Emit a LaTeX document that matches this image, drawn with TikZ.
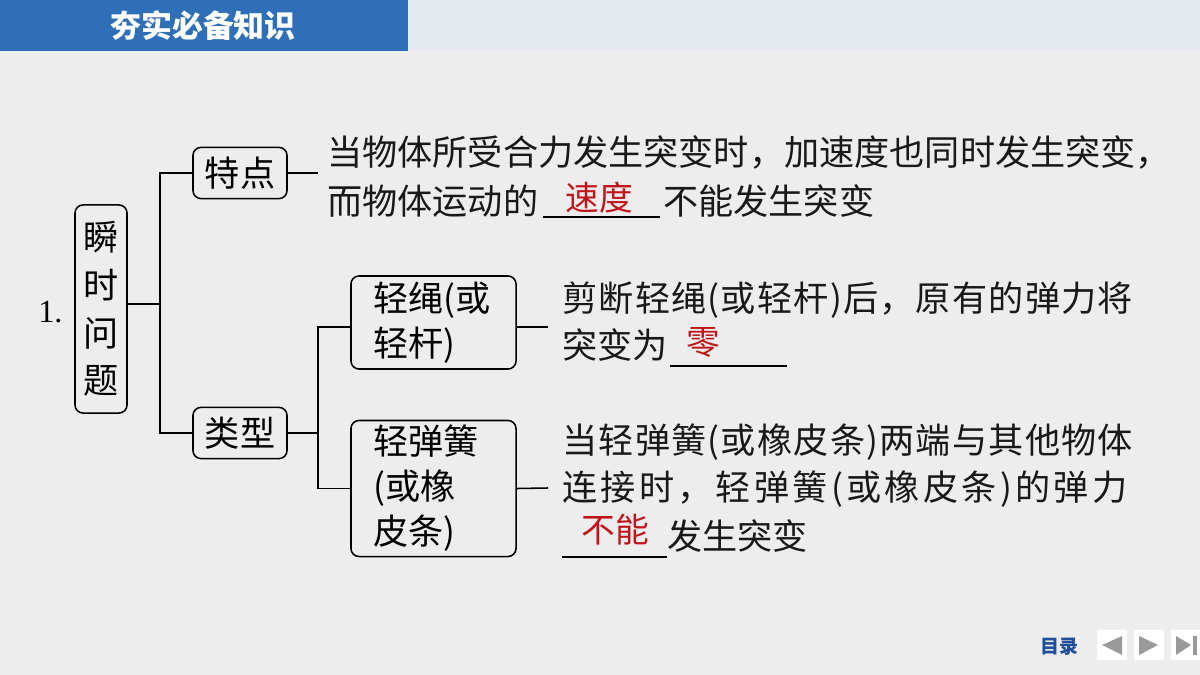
\documentclass[tikz,border=0pt]{standalone}
\usepackage{fontspec}
\setmainfont{Liberation Serif}
\newfontfamily\cjk{Noto Sans CJK SC}
\newfontfamily\cjkmid{Noto Sans CJK SC}[LetterSpace=3.5]
\newfontfamily\cjkwide{Noto Sans CJK SC}[LetterSpace=9.3]
\definecolor{hdrblue}{HTML}{2E6FB7}
\definecolor{bandc}{HTML}{E4E9F0}
\definecolor{bgc}{HTML}{EDEDED}
\definecolor{ansred}{HTML}{C0161B}
\definecolor{navblue}{HTML}{1F4E9A}
\definecolor{navgray}{HTML}{9A9A9A}
\tikzset{
  lnk/.style={line width=1.1pt, black},
  bx/.style={draw=black, line width=1.1pt, rounded corners=0.2cm, inner sep=0pt,
    font=\cjk\fontsize{25}{34}\selectfont},
  tx/.style={anchor=west, inner sep=0pt, text height=22pt, text depth=3pt,
    font=\cjk\fontsize{25}{30}\selectfont, text=black!90},
  txmid/.style={tx, font=\cjkmid\fontsize{25}{30}\selectfont},
  txwide/.style={tx, font=\cjkwide\fontsize{25}{30}\selectfont},
  ans/.style={anchor=center, inner sep=0pt, text height=21.1pt, text depth=2.9pt,
    font=\cjk\fontsize{24}{28}\selectfont, text=ansred},
  blankline/.style={line width=1.1pt, black},
  navbtn/.style={fill=white, draw=none, minimum width=0.75cm, minimum height=0.75cm, inner sep=0pt}
}
\begin{document}
\begin{tikzpicture}[x=0.025cm, y=-0.025cm]
\useasboundingbox (0,0) rectangle (1200,675);
% background
\fill[bgc] (0,0) rectangle (1200,675);
\fill[bandc] (408,0) rectangle (1200,50);
\fill[hdrblue] (0,0) rectangle (408,51);
\node[inner sep=0pt, font=\cjk\bfseries\fontsize{22}{26}\selectfont, text=white] (title) at (203,26) {夯实必备知识};

% number
\node[anchor=base west, inner sep=0pt, font=\fontsize{23}{26}\selectfont] (num) at (38,322) {1.};

% boxes
\node[bx, minimum width=1.3cm, minimum height=5.2cm, align=center,
      font=\cjk\fontsize{25}{34}\selectfont] (q) at (101,309) {瞬\\时\\问\\题};
\node[bx, minimum width=2.35cm, minimum height=1.28cm] (td) at (240,173) {特点};
\node[bx, minimum width=2.35cm, minimum height=1.28cm] (lx) at (240,433) {类型};
\node[bx, minimum width=4.125cm, minimum height=2.325cm, text width=3.0cm, align=left,
      font=\cjk\fontsize{25}{32}\selectfont] (sh) at (433.5,322.5) {轻绳(或\\轻杆)};
\node[bx, minimum width=4.125cm, minimum height=3.4cm, text width=3.0cm, align=left,
      font=\cjk\fontsize{25}{32}\selectfont] (sp) at (433.5,488.5) {轻弹簧\\(或橡\\皮条)};

% connectors
\coordinate (j1) at (160,304);
\coordinate (j2) at (318,433);
\coordinate (e0) at (318,173);
\coordinate (e1) at (548,327);
\coordinate (e2) at (548,488);
\draw[lnk] (q.east |- j1) -- (j1);
\draw[lnk] (td.west) -| (j1) |- (lx.west);
\draw[lnk] (td.east) -- (e0);
\draw[lnk] (lx.east) -- (j2);
\draw[lnk] (sh.west |- e1) -| (j2) |- (sp.west);
\draw[lnk] (sh.east |- e1) -- (e1);
\draw[lnk] (sp.east) -- (e2);

% paragraph 1
\node[tx] (p1a) at (327,152) {当物体所受合力发生突变时，加速度也同时发生突变，};
\node[tx] (p1b) at (327,201) {而物体运动的};
\draw[blankline] (543,217) -- (660,217);
\node[ans] (a1) at (599,198) {速度};
\node[tx] (p1c) at (663,201) {不能发生突变};

% paragraph 2
\node[txmid] (p2a) at (562,298) {剪断轻绳(或轻杆)后，原有的弹力将};
\node[tx] (p2b) at (562,345) {突变为};
\draw[blankline] (670,366) -- (787,366);
\node[ans] (a2) at (703,342) {零};

% paragraph 3
\node[txmid] (p3a) at (562,440) {当轻弹簧(或橡皮条)两端与其他物体};
\node[txwide] (p3b) at (562,487) {连接时，轻弹簧(或橡皮条)的弹力};
\draw[blankline] (562,557) -- (667,557);
\node[ans] (a3) at (615,530) {不能};
\node[tx] (p3c) at (667,536) {发生突变};

% navigation
\node[inner sep=0pt, font=\cjk\bfseries\fontsize{13.5}{16}\selectfont, text=navblue] (toc) at (1059,647) {目录};
\node[navbtn] (b1) at (1112,645) {};
\node[navbtn] (b2) at (1149,645) {};
\node[navbtn] (b3) at (1186,645) {};
\fill[navgray] (1102,645) -- (1122,636) -- (1122,655) -- cycle;
\fill[navgray] (1139,636) -- (1158,645) -- (1139,655) -- cycle;
\fill[navgray] (1176,636) -- (1191,645) -- (1176,655) -- cycle;
\fill[navgray] (1193,636) rectangle (1197,655);
\end{tikzpicture}
\end{document}
